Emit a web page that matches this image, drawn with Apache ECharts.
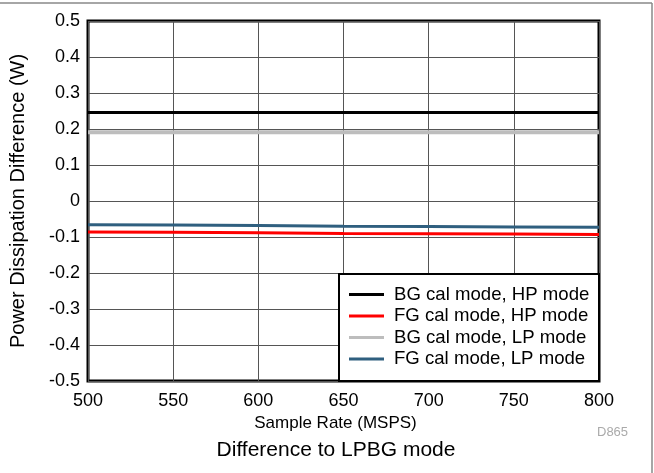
<!DOCTYPE html>
<html>
<head>
<meta charset="utf-8">
<script src="https://cdn.jsdelivr.net/npm/echarts@6/dist/echarts.min.js"></script>
<style>
html,body{margin:0;padding:0;background:#fff;}
#chart{width:654px;height:473px;}
</style>
</head>
<body>
<div id="chart"></div>
<script>
var sampleRates = [500, 550, 600, 650, 700, 750, 800];
var bgHP = [0.246, 0.246, 0.246, 0.246, 0.246, 0.246, 0.246];
var fgHP = [-0.086, -0.087, -0.088, -0.090, -0.091, -0.092, -0.093];
var bgLP = [0.191, 0.191, 0.191, 0.191, 0.191, 0.191, 0.191];
var fgLP = [-0.066, -0.067, -0.068, -0.070, -0.071, -0.072, -0.073];
var seriesNames = ['BG cal mode, HP mode', 'FG cal mode, HP mode', 'BG cal mode, LP mode', 'FG cal mode, LP mode'];
var seriesColors = ['#000000', '#ff0000', '#bdbdbd', '#2f5f7f'];
var seriesWidths = [3, 3, 4, 3];
var seriesData = [bgHP, fgHP, bgLP, fgLP];

var FONT = 'Liberation Sans, Arial, Helvetica, sans-serif';
var chart = echarts.init(document.getElementById('chart'));

function pairs(arr) {
  return sampleRates.map(function (x, i) { return [x, arr[i]]; });
}

var series = seriesNames.map(function (name, i) {
  return {
    name: name,
    type: 'line',
    data: pairs(seriesData[i]),
    showSymbol: false,
    symbol: 'none',
    lineStyle: { color: seriesColors[i], width: seriesWidths[i] },
    itemStyle: { color: seriesColors[i] },
    z: 2
  };
});

chart.setOption({
  animation: false,
  backgroundColor: '#fff',
  title: [{
    text: 'Difference to LPBG mode',
    left: 331,
    top: 435,
    textAlign: 'center',
    textStyle: { fontFamily: FONT, fontSize: 21, fontWeight: 'normal', color: '#000' }
  }],
  grid: {
    left: 88, right: 55, top: 21, bottom: 92,
    show: true, borderColor: '#000', borderWidth: 3, backgroundColor: 'transparent'
  },
  legend: {
    orient: 'vertical',
    left: 349,
    top: 284,
    padding: 0,
    itemGap: 0.5,
    itemWidth: 35,
    itemHeight: 3,
    icon: 'rect',
    data: seriesNames,
    textStyle: { fontFamily: FONT, fontSize: 18.6, color: '#000', lineHeight: 21, padding: [0, 0, 0, 5] },
    z: 5
  },
  xAxis: {
    type: 'value',
    min: 500, max: 800, interval: 50,
    name: 'Sample Rate (MSPS)',
    nameLocation: 'middle',
    nameGap: 33,
    nameTextStyle: { fontFamily: FONT, fontSize: 17, color: '#000', padding: [0, 16, 0, 0] },
    axisLine: { show: false },
    axisTick: { show: false },
    axisLabel: { fontFamily: FONT, fontSize: 18, color: '#000', margin: 11 },
    splitLine: { show: true, lineStyle: { color: '#555', width: 1 } }
  },
  yAxis: {
    type: 'value',
    min: -0.5, max: 0.5, interval: 0.1,
    name: 'Power Dissipation Difference (W)',
    nameLocation: 'middle',
    nameGap: 60,
    nameTextStyle: { fontFamily: FONT, fontSize: 20, color: '#000' },
    axisLine: { show: false },
    axisTick: { show: false },
    axisLabel: {
      fontFamily: FONT, fontSize: 18, color: '#000', margin: 8,
      formatter: function (v) { return Math.abs(v) < 1e-9 ? '0' : v.toFixed(1); }
    },
    splitLine: { show: true, lineStyle: { color: '#555', width: 1 } }
  },
  graphic: [
    { type: 'rect', z: 4, shape: { x: 339, y: 274, width: 260, height: 107 },
      style: { fill: '#fff', stroke: '#000', lineWidth: 2 } },
    { type: 'text', z: 5, x: 597, y: 426,
      style: { text: 'D865', fontFamily: FONT, fontSize: 13, fill: '#aaa' } },
    { type: 'line', z: 5, shape: { x1: 0, y1: 3, x2: 652, y2: 3 },
      style: { stroke: '#888', lineWidth: 1.5 } },
    { type: 'line', z: 5, shape: { x1: 652, y1: 3, x2: 652, y2: 473 },
      style: { stroke: '#888', lineWidth: 1.5 } }
  ],
  series: series
});
</script>
</body>
</html>
